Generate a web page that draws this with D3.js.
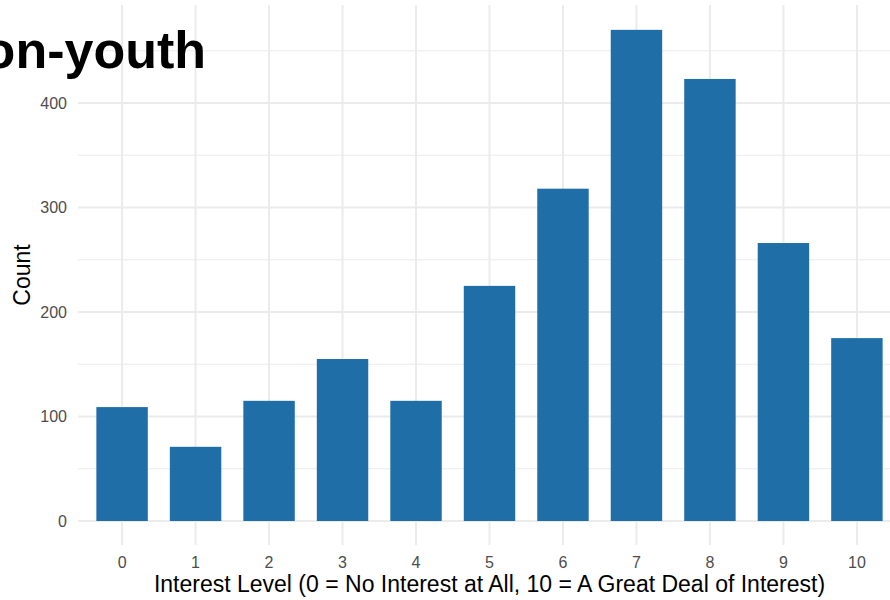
<!DOCTYPE html>
<html>
<head>
<meta charset="utf-8">
<script src="https://cdn.jsdelivr.net/npm/d3@7"></script>
<style>
  body { margin: 0; background: #fff; }
  svg { display: block; font-family: "Liberation Sans", Arial, sans-serif; }
</style>
</head>
<body>
<div id="chart"></div>
<script>
const width = 890;
const height = 600;

const levels = ["0", "1", "2", "3", "4", "5", "6", "7", "8", "9", "10"];
const counts = [109, 71, 115, 155, 115, 225, 318, 470, 423, 266, 175];
const yTicks = [0, 100, 200, 300, 400];
const yMinor = [50, 150, 250, 350, 450];

const titleText = "Non-youth";
const xTitle = "Interest Level (0 = No Interest at All, 10 = A Great Deal of Interest)";
const yTitle = "Count";

// panel runs past the right edge, like the reference crop
const panel = { left: 78, right: 901, top: 5, bottom: 545 };

const xScale = d3
  .scaleBand()
  .domain(levels)
  .range([panel.left, panel.right])
  .paddingInner(0.3)
  .paddingOuter(0.25);

const yScale = d3
  .scaleLinear()
  .domain([0, 100])
  .range([521, 416.5]);

const svg = d3
  .select("#chart")
  .append("svg")
  .attr("width", width)
  .attr("height", height);

const xCenter = d => xScale(d) + xScale.bandwidth() / 2;

// minor grid
svg
  .append("g")
  .selectAll("line")
  .data(yMinor)
  .enter()
  .append("line")
  .attr("x1", panel.left)
  .attr("x2", panel.right)
  .attr("y1", d => yScale(d))
  .attr("y2", d => yScale(d))
  .attr("stroke", "#ebebeb")
  .attr("stroke-width", 1);

// major grid
svg
  .append("g")
  .selectAll("line")
  .data(yTicks)
  .enter()
  .append("line")
  .attr("x1", panel.left)
  .attr("x2", panel.right)
  .attr("y1", d => yScale(d))
  .attr("y2", d => yScale(d))
  .attr("stroke", "#ebebeb")
  .attr("stroke-width", 2);

svg
  .append("g")
  .selectAll("line")
  .data(levels)
  .enter()
  .append("line")
  .attr("x1", xCenter)
  .attr("x2", xCenter)
  .attr("y1", panel.top)
  .attr("y2", panel.bottom)
  .attr("stroke", "#ebebeb")
  .attr("stroke-width", 2);

// bars
svg
  .append("g")
  .selectAll("rect")
  .data(counts)
  .enter()
  .append("rect")
  .attr("x", (d, i) => xScale(levels[i]))
  .attr("width", xScale.bandwidth())
  .attr("y", d => yScale(d))
  .attr("height", d => yScale(0) - yScale(d))
  .attr("fill", "#1f6ea8");

// axes (text only, ggplot minimal theme)
const yAxis = d3.axisLeft(yScale).tickValues(yTicks).tickSize(0).tickPadding(0);
const gy = svg
  .append("g")
  .attr("transform", "translate(67,0)")
  .call(yAxis);
gy.select(".domain").remove();
gy.selectAll("text")
  .attr("fill", "#4d4d4d")
  .style("font-size", "16px");

const xAxis = d3.axisBottom(xScale).tickSize(0).tickPadding(0);
const gx = svg
  .append("g")
  .attr("transform", "translate(0,557)")
  .call(xAxis);
gx.select(".domain").remove();
gx.selectAll("text")
  .attr("fill", "#4d4d4d")
  .style("font-size", "16px");

svg
  .append("text")
  .attr("x", (panel.left + panel.right) / 2)
  .attr("y", 592)
  .attr("text-anchor", "middle")
  .style("font-size", "23px")
  .attr("fill", "#000")
  .text(xTitle);

svg
  .append("text")
  .attr("transform", "translate(30," + (panel.top + panel.bottom) / 2 + ") rotate(-90)")
  .attr("text-anchor", "middle")
  .style("font-size", "23px")
  .attr("fill", "#000")
  .text(yTitle);

svg
  .append("text")
  .attr("x", 206)
  .attr("y", 68)
  .attr("text-anchor", "end")
  .style("font-size", "52px")
  .style("font-weight", "bold")
  .attr("fill", "#000")
  .text(titleText);
</script>
</body>
</html>
